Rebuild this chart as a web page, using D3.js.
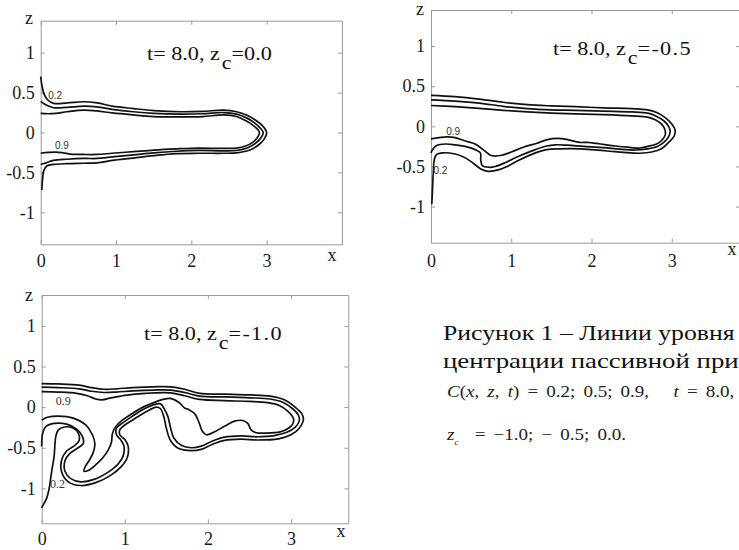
<!DOCTYPE html>
<html>
<head>
<meta charset="utf-8">
<script src="https://cdn.jsdelivr.net/npm/d3@7"></script>
<style>
  body { margin: 0; background: #fff; }
  svg { display: block; }
  .serif, .axis text { font-family: "Liberation Serif", "Tinos", "Times New Roman", "Times", "DejaVu Serif", "Noto Serif", serif; }
  .axis text { font-size: 18px; fill: #1a1a1a; }
  .axis .domain, .axis line { stroke: #9a9a9a; stroke-width: 1; }
  .contour { fill: none; stroke: #111; stroke-width: 1.7; stroke-linejoin: round; }
</style>
</head>
<body>
<div id="fig"></div>
<script>
var xTicks = [0, 1, 2, 3];
var zTicks = [1, 0.5, 0, -0.5, -1];
var levels = ["0.2", "0.5", "0.9"];
var zcValues = ["0.0", "-0.5", "-1.0"];

// panel 1, z_c = 0.0
var p1c02 = [[0,0.70],[0.02,0.57],[0.045,0.48],[0.09,0.41],[0.17,0.365],[0.35,0.37],[0.57,0.385],[0.75,0.37],[0.95,0.33],[1.23,0.30],[1.5,0.275],[1.85,0.26],[2.15,0.265],[2.43,0.28],[2.6,0.26],[2.74,0.215],[2.86,0.15],[2.95,0.08],[3.0,0.0],[2.97,-0.08],[2.9,-0.15],[2.78,-0.22],[2.6,-0.255],[2.43,-0.26],[2.1,-0.26],[1.8,-0.265],[1.5,-0.29],[1.23,-0.32],[0.95,-0.35],[0.75,-0.38],[0.57,-0.385],[0.35,-0.39],[0.17,-0.4],[0.08,-0.42],[0.04,-0.48],[0.025,-0.58],[0.015,-0.72]];
var p1c05 = [[0,0.39],[0.08,0.34],[0.17,0.31],[0.35,0.315],[0.57,0.33],[0.75,0.32],[0.95,0.29],[1.23,0.26],[1.5,0.24],[1.85,0.23],[2.15,0.235],[2.43,0.25],[2.6,0.23],[2.74,0.18],[2.84,0.12],[2.92,0.05],[2.955,0.0],[2.93,-0.06],[2.86,-0.13],[2.75,-0.19],[2.6,-0.225],[2.43,-0.23],[2.1,-0.225],[1.8,-0.235],[1.5,-0.255],[1.23,-0.28],[0.95,-0.305],[0.75,-0.325],[0.57,-0.325],[0.35,-0.335],[0.17,-0.35],[0.07,-0.38],[0,-0.4]];
var p1c09 = [[0,0.24],[0.1,0.235],[0.2,0.24],[0.35,0.26],[0.57,0.28],[0.75,0.27],[0.95,0.245],[1.23,0.22],[1.5,0.2],[1.85,0.195],[2.15,0.2],[2.43,0.22],[2.6,0.2],[2.72,0.15],[2.82,0.09],[2.89,0.03],[2.905,-0.01],[2.88,-0.06],[2.82,-0.12],[2.72,-0.17],[2.6,-0.195],[2.43,-0.2],[2.1,-0.195],[1.8,-0.205],[1.5,-0.22],[1.23,-0.24],[0.95,-0.26],[0.75,-0.275],[0.57,-0.275],[0.4,-0.27],[0.3,-0.255],[0.2,-0.245],[0.1,-0.25],[0,-0.26]];

// panel 2, z_c = -0.5
var p2c02 = [[0,0.386],[0.3,0.37],[0.6,0.34],[0.9,0.30],[1.2,0.27],[1.5,0.255],[1.8,0.245],[2.15,0.23],[2.5,0.22],[2.7,0.205],[2.82,0.17],[2.93,0.1],[3.0,0.03],[3.04,-0.04],[3.03,-0.12],[2.96,-0.2],[2.87,-0.28],[2.75,-0.32],[2.6,-0.335],[2.4,-0.325],[2.23,-0.31],[2.0,-0.29],[1.86,-0.28],[1.6,-0.28],[1.44,-0.29],[1.3,-0.33],[1.1,-0.42],[0.95,-0.5],[0.85,-0.54],[0.71,-0.56],[0.62,-0.53],[0.5,-0.44],[0.4,-0.38],[0.3,-0.345],[0.15,-0.33],[0.07,-0.35],[0.04,-0.42],[0.03,-0.55],[0.02,-0.76],[0.01,-0.97]];
var p2c05 = [[0,0.33],[0.3,0.315],[0.6,0.29],[0.9,0.25],[1.2,0.22],[1.5,0.205],[1.8,0.2],[2.15,0.19],[2.5,0.18],[2.7,0.165],[2.8,0.13],[2.9,0.07],[2.96,0.0],[2.98,-0.06],[2.96,-0.13],[2.9,-0.2],[2.82,-0.25],[2.7,-0.28],[2.55,-0.295],[2.35,-0.285],[2.15,-0.265],[1.9,-0.25],[1.7,-0.235],[1.55,-0.23],[1.44,-0.245],[1.3,-0.29],[1.1,-0.37],[0.93,-0.45],[0.8,-0.5],[0.72,-0.51],[0.64,-0.49],[0.62,-0.42],[0.615,-0.33],[0.55,-0.29],[0.45,-0.255],[0.3,-0.23],[0.18,-0.22],[0.07,-0.24],[0.02,-0.29],[0,-0.33]];
var p2c09 = [[0,0.26],[0.3,0.245],[0.6,0.225],[0.9,0.2],[1.2,0.18],[1.5,0.165],[1.8,0.155],[2.15,0.145],[2.5,0.13],[2.7,0.115],[2.8,0.08],[2.87,0.03],[2.91,-0.03],[2.92,-0.1],[2.88,-0.17],[2.81,-0.22],[2.7,-0.25],[2.6,-0.27],[2.45,-0.26],[2.3,-0.245],[2.11,-0.22],[1.95,-0.2],[1.85,-0.2],[1.7,-0.165],[1.58,-0.15],[1.45,-0.165],[1.32,-0.21],[1.15,-0.26],[1.0,-0.32],[0.88,-0.36],[0.8,-0.37],[0.74,-0.36],[0.65,-0.29],[0.55,-0.22],[0.42,-0.18],[0.3,-0.14],[0.2,-0.13],[0.1,-0.14],[0,-0.155]];

// panel 3, z_c = -1.0
var p3c02 = [[0,0.29],[0.2,0.285],[0.45,0.27],[0.6,0.24],[0.75,0.22],[0.9,0.225],[1.1,0.24],[1.35,0.25],[1.55,0.25],[1.72,0.22],[1.9,0.17],[2.2,0.16],[2.5,0.15],[2.75,0.135],[2.92,0.09],[3.05,0.0],[3.13,-0.08],[3.15,-0.15],[3.1,-0.26],[3.0,-0.34],[2.85,-0.39],[2.6,-0.405],[2.4,-0.395],[2.2,-0.41],[2.05,-0.46],[1.92,-0.52],[1.8,-0.535],[1.65,-0.51],[1.55,-0.41],[1.5,-0.26],[1.47,-0.12],[1.43,-0.02],[1.38,0.0],[1.25,-0.06],[1.1,-0.155],[1.0,-0.22],[0.94,-0.28],[0.94,-0.34],[1.0,-0.4],[1.04,-0.48],[1.03,-0.62],[0.96,-0.73],[0.83,-0.84],[0.65,-0.93],[0.47,-0.965],[0.32,-0.92],[0.24,-0.8],[0.24,-0.65],[0.3,-0.54],[0.4,-0.47],[0.45,-0.41],[0.44,-0.32],[0.37,-0.255],[0.27,-0.245],[0.2,-0.28],[0.17,-0.36],[0.16,-0.45],[0.15,-0.6],[0.12,-0.79],[0.09,-1.0],[0.06,-1.12],[0.02,-1.2],[0,-1.24]];
var p3c05 = [[0,0.245],[0.2,0.24],[0.45,0.225],[0.6,0.195],[0.75,0.18],[0.9,0.185],[1.1,0.2],[1.35,0.21],[1.55,0.21],[1.72,0.18],[1.9,0.135],[2.2,0.125],[2.5,0.115],[2.75,0.1],[2.9,0.06],[3.02,-0.02],[3.09,-0.1],[3.1,-0.17],[3.05,-0.25],[2.95,-0.31],[2.8,-0.35],[2.6,-0.365],[2.4,-0.355],[2.2,-0.37],[2.05,-0.42],[1.92,-0.48],[1.8,-0.5],[1.68,-0.47],[1.59,-0.38],[1.55,-0.25],[1.52,-0.12],[1.48,-0.03],[1.43,0.04],[1.35,0.03],[1.22,-0.03],[1.08,-0.12],[0.98,-0.19],[0.9,-0.26],[0.9,-0.34],[0.95,-0.4],[0.99,-0.48],[0.98,-0.6],[0.92,-0.7],[0.8,-0.8],[0.63,-0.89],[0.47,-0.92],[0.35,-0.88],[0.28,-0.79],[0.28,-0.66],[0.34,-0.57],[0.44,-0.5],[0.5,-0.45],[0.49,-0.36],[0.42,-0.27],[0.3,-0.21],[0.15,-0.2],[0.05,-0.24],[0.01,-0.33],[0,-0.485]];
var p3c09 = [[0,0.19],[0.2,0.185],[0.42,0.17],[0.55,0.14],[0.65,0.1],[0.73,0.09],[0.82,0.11],[1.0,0.145],[1.25,0.17],[1.55,0.175],[1.72,0.14],[1.9,0.095],[2.2,0.08],[2.5,0.07],[2.72,0.055],[2.86,0.02],[2.96,-0.05],[3.03,-0.14],[3.02,-0.21],[2.97,-0.26],[2.87,-0.305],[2.7,-0.32],[2.58,-0.315],[2.52,-0.28],[2.48,-0.2],[2.42,-0.165],[2.33,-0.17],[2.2,-0.235],[2.07,-0.31],[1.98,-0.34],[1.93,-0.29],[1.89,-0.18],[1.84,-0.08],[1.77,-0.03],[1.72,-0.01],[1.65,0.06],[1.56,0.105],[1.46,0.095],[1.36,0.06],[1.22,0.0],[1.08,-0.085],[0.97,-0.16],[0.89,-0.24],[0.85,-0.33],[0.84,-0.43],[0.8,-0.53],[0.73,-0.63],[0.64,-0.72],[0.56,-0.78],[0.51,-0.79],[0.52,-0.74],[0.57,-0.66],[0.62,-0.56],[0.64,-0.45],[0.61,-0.34],[0.53,-0.22],[0.38,-0.135],[0.2,-0.11],[0.07,-0.125],[0,-0.16]];

// where the level labels sit, in data units
var p1Labels = [{text: "0.2", x: 0.1, z: 0.425}, {text: "0.9", x: 0.19, z: -0.21}];
var p2Labels = [{text: "0.9", x: 0.19, z: -0.11}, {text: "0.2", x: 0.03, z: -0.6}];
var p3Labels = [{text: "0.9", x: 0.17, z: 0.03}, {text: "0.2", x: 0.1, z: -1.0}];

var W = 739, H = 550;
var serif = '"Liberation Serif", "Tinos", "Times New Roman", "Times", "DejaVu Serif", "Noto Serif", serif';
var svg = d3.select("#fig").append("svg").attr("width", W).attr("height", H);

var panels = [
    {left: 40.7, right: 341.9, top: 20.7, bottom: 244.3, xDom: [0, 4], zDom: [-1.4, 1.4], xPad: 10,
     contours: [p1c02, p1c05, p1c09], labels: p1Labels, labelSerif: false, labelSize: 10,
     zc: zcValues[0], titleX: 147, titleY: 60, zX: 29, zY: 24, xX: 332, xY: 261},
    {left: 431, right: 740, top: 10, bottom: 242.7, xDom: [0, 3.85], zDom: [-1.45, 1.45], xPad: 12,
     contours: [p2c02, p2c05, p2c09], labels: p2Labels, labelSerif: false, labelSize: 10,
     zc: zcValues[1], titleX: 553, titleY: 55, zX: 420, zY: 15, xX: 732, xY: 255},
    {left: 41.7, right: 348.3, top: 295, bottom: 523.3, xDom: [0, 3.69], zDom: [-1.43, 1.38], xPad: 9,
     contours: [p3c02, p3c05, p3c09], labels: p3Labels, labelSerif: true, labelSize: 12,
     zc: zcValues[2], titleX: 144, titleY: 340, zX: 29, zY: 301, xX: 341, xY: 537}
];

var drawPanel = function(p) {
    var x = d3.scaleLinear().domain(p.xDom).range([p.left, p.right]);
    var y = d3.scaleLinear().domain(p.zDom).range([p.bottom, p.top]);
    var g = svg.append("g");

    var fmt = function(d) { return String(d); };

    g.append("g").attr("class", "axis").attr("transform", "translate(0," + p.bottom + ")")
        .call(d3.axisBottom(x).tickValues(xTicks).tickSize(-4).tickSizeOuter(0).tickPadding(p.xPad).tickFormat(fmt));
    g.append("g").attr("class", "axis").attr("transform", "translate(" + p.left + ",0)")
        .call(d3.axisLeft(y).tickValues(zTicks).tickSize(-4).tickSizeOuter(0).tickPadding(6).tickFormat(fmt));
    g.append("g").attr("class", "axis").attr("transform", "translate(0," + p.top + ")")
        .call(d3.axisTop(x).tickValues(xTicks).tickSize(-4).tickSizeOuter(0).tickFormat(""));
    g.append("g").attr("class", "axis").attr("transform", "translate(" + p.right + ",0)")
        .call(d3.axisRight(y).tickValues(zTicks).tickSize(-4).tickSizeOuter(0).tickFormat(""));

    var line = d3.line()
        .x(function(d) { return x(d[0]); })
        .y(function(d) { return y(d[1]); })
        .curve(d3.curveCatmullRom.alpha(0.5));

    g.selectAll("path.contour").data(p.contours).enter().append("path")
        .attr("class", "contour")
        .attr("data-level", function(d, i) { return levels[i]; })
        .attr("d", line);

    g.selectAll("text.lvl").data(p.labels).enter().append("text")
        .attr("class", "lvl")
        .attr("x", function(d) { return x(d.x); })
        .attr("y", function(d) { return y(d.z); })
        .style("font-family", p.labelSerif ? serif : '"Liberation Sans", Arial, sans-serif')
        .attr("font-size", p.labelSize)
        .attr("fill", "#333")
        .text(function(d) { return d.text; });

    g.append("text").attr("x", p.zX).attr("y", p.zY).attr("text-anchor", "middle")
        .style("font-family", serif).attr("font-size", 18).attr("fill", "#1a1a1a").text("z");
    g.append("text").attr("x", p.xX).attr("y", p.xY).attr("text-anchor", "middle")
        .style("font-family", serif).attr("font-size", 18).attr("fill", "#1a1a1a").text("x");

    // the title glyphs are a bit wider than the font, so stretch them sideways
    var neg = p.zc.charAt(0) === "-";
    var t = g.append("g").attr("transform", "translate(" + p.titleX + "," + p.titleY + ") scale(1.2,1)")
        .append("text").style("font-family", serif).attr("font-size", 18.5).attr("fill", "#111");
    t.append("tspan").text("t= 8.0, z");
    t.append("tspan").attr("dx", 1.5).attr("dy", 9).text("c");
    t.append("tspan").attr("dy", -9).attr("letter-spacing", neg ? 1.1 : 0).text("=" + p.zc);
};

panels.forEach(drawPanel);

// caption
var cap = svg.append("g").style("font-family", serif).attr("fill", "#111");
var capLine = function(px, py, sx) {
    return cap.append("g").attr("transform", "translate(" + px + "," + py + ") scale(" + sx + ",1)")
        .append("text").attr("x", 0).attr("y", 0);
};
capLine(443, 340, 1.17).attr("font-size", 22).text("Рисунок 1 – Линии уровня");
capLine(443, 368, 1.22).attr("font-size", 22).text("центрации пассивной при");

var m1 = capLine(447, 397, 1.12).attr("font-size", 17).attr("fill", "#222")
    .style("white-space", "pre").attr("word-spacing", 3);
m1.append("tspan").attr("font-style", "italic").text("C");
m1.append("tspan").text("(");
m1.append("tspan").attr("font-style", "italic").text("x");
m1.append("tspan").text(", ");
m1.append("tspan").attr("font-style", "italic").text("z");
m1.append("tspan").text(", ");
m1.append("tspan").attr("font-style", "italic").text("t");
m1.append("tspan").text(") = 0.2; 0.5; 0.9,   ");
m1.append("tspan").attr("font-style", "italic").text("t");
m1.append("tspan").text(" = 8.0,");

var m2 = capLine(447, 440, 1.12).attr("font-size", 17).attr("fill", "#222")
    .style("white-space", "pre").attr("word-spacing", 3);
m2.append("tspan").attr("font-style", "italic").text("z");
m2.append("tspan").attr("font-style", "italic").attr("font-size", 8).attr("dy", 5).text("c");
m2.append("tspan").attr("dy", -5).text("  = −1.0; − 0.5; 0.0.");
</script>
</body>
</html>
